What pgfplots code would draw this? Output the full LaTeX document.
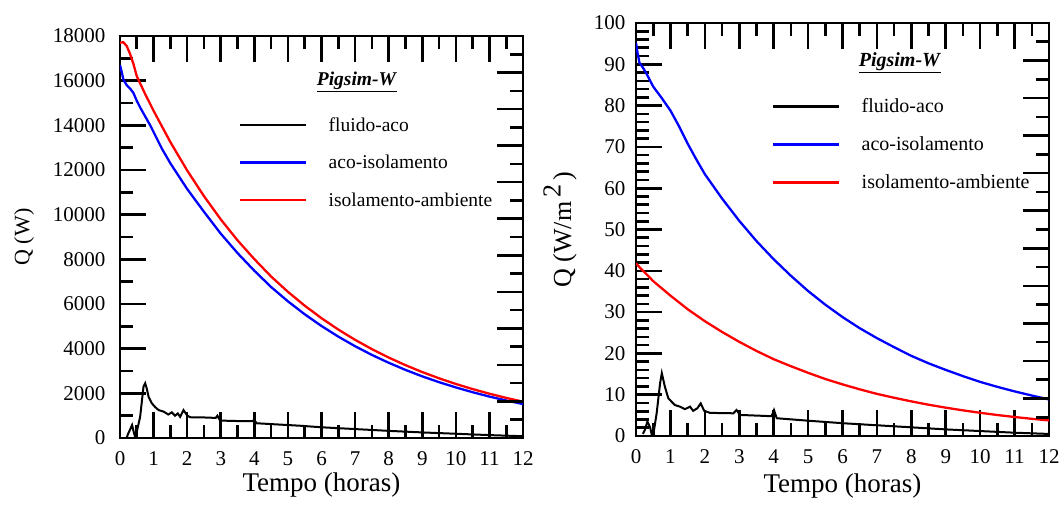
\documentclass[border=0pt]{standalone}
\usepackage{fontspec}
\setmainfont{Liberation Serif}
\usepackage{pgfplots}
\pgfplotsset{compat=1.18}
\pgfplotsset{
  common/.style={
    scale only axis, anchor=south west,
    xmin=0, xmax=12, xtick={0,...,12}, minor x tick num=1,
    tick align=inside,
    major tick length=26pt, minor tick length=13pt,
    tick style={line width=2.6pt, black},
    axis line style={line width=2.6pt},
    tick label style={font=\fontsize{21}{25}\selectfont},
    /pgf/number format/assume math mode=true,
    /pgf/number format/1000 sep={},
    scaled y ticks=false,
    clip=true,
  },
  mainax/.style={common, xtick pos=both, ytick pos=left,
    xticklabel style={yshift=-10pt},
    xlabel style={anchor=base},
    legend cell align=left,
    legend image code/.code={\draw[##1, line width=2.5pt] (0pt,1.5pt) -- (66pt,1.5pt);},
  },
  rightticks/.style={common, axis line style={draw=none}, xtick=\empty,
    ymin=0, ymax=11, ytick={0,...,11}, minor y tick num=1, ytick pos=right,
    yticklabels={}},
}
\begin{document}
\begin{tikzpicture}[x=1pt,y=1pt]
\useasboundingbox (0,0) rectangle (1064,507);
% ---------- left ----------
\begin{axis}[mainax, at={(120pt,69pt)}, width=403pt, height=402pt,
  ymin=0, ymax=18000, ytick={0,2000,...,18000}, minor y tick num=1,
  yticklabel style={xshift=-11pt},
  xlabel={\fontsize{27}{30}\selectfont Tempo (horas)},
  ylabel={\fontsize{22}{26}\selectfont Q (W)},
  xlabel style={at={(axis description cs:0.5,-0.134)}},
  ylabel style={at={(axis description cs:-0.238,0.5)}, anchor=center},
  legend style={draw=none, fill=none, at={(rel axis cs:0.2953,0.7985)}, anchor=north west,
    font=\fontsize{19.5}{22}\selectfont, inner sep=0pt, row sep=18.5pt, column sep=21pt,
    nodes={inner sep=0pt, text height=14pt, text depth=5pt}},
]
\addplot[black, line width=2pt] coordinates {
(0.2,0) (0.23,150) (0.3,380) (0.36,580) (0.42,200) (0.46,0) (0.5,280) (0.6,950)
(0.7,2300) (0.75,2450) (0.8,2200) (0.85,1850) (0.95,1550) (1.05,1380) (1.15,1250)
(1.3,1180) (1.44,1050) (1.54,1150) (1.64,1000) (1.72,1100) (1.79,950) (1.89,1250)
(1.99,1030) (2.08,930) (2.5,920) (2.85,900) (2.9,1000) (2.98,780) (3.5,760)
(3.95,760) (3.99,820) (4.07,660) (5,580) (5.36,550) (6,480) (7,400) (8,320)
(9,250) (10,190) (11,130) (12,80)};
\addlegendentry{fluido-aco}
\addplot[blue, line width=2.3pt] coordinates {
(0,16700) (0.05,16400) (0.1,16050) (0.2,15800) (0.3,15650) (0.4,15450) (0.5,15100)
(0.6,14800) (0.75,14400) (0.9,14000) (1.0,13700) (1.25,12950) (1.5,12300) (2,11150)
(2.5,10130) (3,9150) (3.5,8280) (4,7490) (4.5,6760) (5,6120) (5.5,5540) (6,5015)
(6.5,4540) (7,4110) (7.5,3720) (8,3370) (8.5,3050) (9,2760) (9.5,2500) (10,2265)
(10.5,2050) (11,1855) (11.5,1680) (12,1520)};
\addlegendentry{aco-isolamento}
\addplot[red, line width=2.3pt] coordinates {
(0,17700) (0.1,17720) (0.2,17550) (0.3,17200) (0.4,16750) (0.5,16200) (0.75,15400)
(1,14650) (1.5,13250) (2,11980) (2.5,10830) (3,9790) (3.5,8850) (4,8010) (4.5,7230)
(5,6545) (5.5,5925) (6,5364) (6.5,4856) (7,4396) (7.5,3980) (8,3603) (8.5,3262)
(9,2953) (9.5,2673) (10,2420) (10.5,2191) (11,1983) (11.5,1795) (12,1626)};
\addlegendentry{isolamento-ambiente}
\end{axis}
\begin{axis}[rightticks, at={(120pt,69pt)}, width=403pt, height=402pt, xmin=0, xmax=12]
\end{axis}
% ---------- right ----------
\begin{axis}[mainax, at={(636pt,71pt)}, width=413pt, height=413pt,
  ymin=0, ymax=100, ytick={0,10,...,100}, minor y tick num=4,
  yticklabel style={xshift=-7pt},
  xlabel={\fontsize{27}{30}\selectfont Tempo (horas)},
  ylabel={\fontsize{26}{30}\selectfont Q (W/m\,\raisebox{0.4em}{2}\,)},
  xlabel style={at={(axis description cs:0.5,-0.136)}},
  ylabel style={at={(axis description cs:-0.184,0.5)}, anchor=center},
  legend style={draw=none, fill=none, at={(rel axis cs:0.3293,0.8182)}, anchor=north west,
    font=\fontsize{20}{22}\selectfont, inner sep=0pt, row sep=19pt, column sep=21pt,
    nodes={inner sep=0pt, text height=14pt, text depth=5pt}},
]
\addplot[black, line width=2pt] coordinates {
(0.2,0.5) (0.26,1.5) (0.33,3.5) (0.41,2.1) (0.46,0.2) (0.5,0.2) (0.6,5.5) (0.7,12.8)
(0.75,15.2) (0.84,11.9) (0.94,9.1) (1.13,7.5) (1.28,7.1) (1.42,6.5) (1.57,7.1)
(1.66,6.1) (1.78,6.7) (1.88,7.9) (1.98,6.1) (2.15,5.6) (2.83,5.5) (2.92,6.3)
(3.02,5.1) (3.94,4.8) (4.01,6.3) (4.09,4.3) (5.01,3.7) (6,3.1) (7,2.6) (8,2.1)
(9,1.6) (10,1.2) (11,0.8) (12,0.5)};
\addlegendentry{fluido-aco}
\addplot[blue, line width=2.3pt] coordinates {
(0,95.2) (0.05,92.5) (0.1,90.4) (0.2,89.2) (0.3,87.8) (0.4,86.2) (0.5,84.6)
(0.75,81.8) (1.0,78.8) (1.25,75.0) (1.5,70.8) (1.75,67.0) (2,63.4)
(2.5,57.5) (3,52.1) (3.5,47.2) (4,42.8) (4.5,38.8) (5,35.1) (5.5,31.8) (6,28.8)
(6.5,26.1) (7,23.7) (7.5,21.5) (8,19.4) (8.5,17.6) (9,16.0) (9.5,14.5) (10,13.1)
(10.5,11.9) (11,10.8) (11.5,9.8) (12,8.85)};
\addlegendentry{aco-isolamento}
\addplot[red, line width=2.3pt] coordinates {
(0,41.8) (0.1,40.9) (0.5,37.5) (1,34.0) (1.5,30.7) (2,27.8) (2.5,25.2) (3,22.8)
(3.5,20.6) (4,18.6) (4.5,16.9) (5,15.3) (5.5,13.8) (6,12.5) (6.5,11.3) (7,10.2)
(7.5,9.26) (8,8.38) (8.5,7.58) (9,6.86) (9.5,6.21) (10,5.62) (10.5,5.08) (11,4.60)
(11.5,4.16) (12,3.77)};
\addlegendentry{isolamento-ambiente}
\end{axis}
\begin{axis}[rightticks, at={(636pt,71pt)}, width=413pt, height=413pt, xmin=0, xmax=12]
\end{axis}
\node[font=\fontsize{19.5}{22}\selectfont] at (357,425) {\underline{\textbf{\textit{Pigsim-W}}}};
\node[font=\fontsize{20}{22}\selectfont] at (900,444) {\underline{\textbf{\textit{Pigsim-W}}}};
\end{tikzpicture}
\end{document}
